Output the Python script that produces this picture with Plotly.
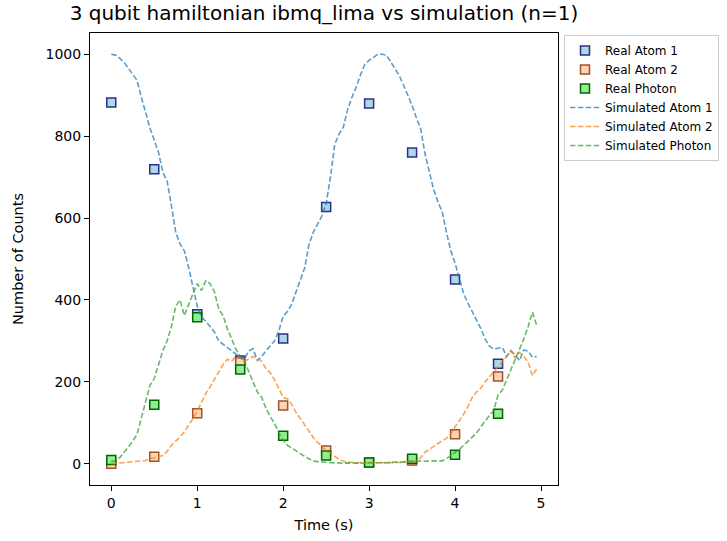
import plotly.graph_objects as go

# Real hardware samples
real_time = [0.0, 0.5, 1.0, 1.5, 2.0, 2.5, 3.0, 3.5, 4.0, 4.5]
real_atom1 = [882, 719, 365, 252, 306, 627, 880, 760, 450, 244]
real_atom2 = [0, 17, 123, 248, 142, 32, 3, 8, 72, 213]
real_photon = [9, 144, 358, 230, 68, 20, 3, 12, 22, 122]

# Simulation grid (step 0.05 from 0 to 4.95)
sim_time = [round(0.05 * i, 2) for i in range(100)]
sim_atom1 = [
    1000, 998, 990, 980, 966, 950, 936, 895, 858, 820,
    790, 760, 712, 690, 630, 565, 537, 520, 480, 430,
    385, 358, 348, 335, 322, 300, 292, 284, 278, 268,
    258, 255, 276, 281, 252, 262, 276, 288, 300, 325,
    360, 372, 390, 420, 450, 478, 535, 565, 585, 605,
    635, 700, 780, 805, 822, 865, 895, 920, 950, 975,
    985, 992, 1000, 1000, 998, 982, 965, 948, 925, 900,
    875, 845, 818, 757, 715, 670, 640, 615, 565, 520,
    490, 450, 415, 392, 372, 350, 330, 305, 287, 280,
    282, 284, 262, 276, 265, 252, 278, 275, 260, 262,
]
sim_atom2 = [
    0, 1, 2, 3, 4, 6, 7, 8, 8, 12,
    15, 18, 20, 30, 45, 55, 65, 78, 93, 110,
    128, 152, 172, 188, 205, 225, 242, 255, 250, 262,
    258, 250, 255, 262, 258, 250, 232, 222, 205, 185,
    162, 158, 145, 125, 110, 98, 80, 64, 52, 44,
    30, 26, 18, 10, 6, 4, 3, 2, 3, 2,
    2, 3, 2, 3, 2, 3, 2, 3, 3, 5,
    5, 8, 15, 28, 35, 44, 50, 56, 62, 72,
    90, 105, 121, 140, 162, 175, 185, 200, 212, 225,
    238, 250, 262, 276, 258, 272, 262, 248, 215, 232,
]
sim_photon = [
    5, 8, 15, 28, 42, 55, 72, 110, 154, 191,
    208, 240, 276, 300, 335, 385, 400, 362, 390, 415,
    440, 423, 447, 440, 420, 378, 362, 330, 305, 280,
    262, 250, 225, 200, 175, 162, 135, 115, 98, 75,
    58, 45, 38, 30, 24, 18, 12, 7, 5, 4,
    3, 3, 2, 2, 1, 2, 1, 2, 1, 2,
    2, 1, 2, 3, 2, 3, 4, 3, 5, 6,
    7, 6, 7, 6, 7, 7, 8, 7, 12, 20,
    26, 35, 45, 55, 65, 75, 90, 105, 118, 130,
    168, 180, 205, 232, 255, 280, 305, 335, 370, 338,
]

x_ticks = [0, 1, 2, 3, 4, 5]
y_ticks = [0, 200, 400, 600, 800, 1000]

FONT = "DejaVu Sans, Liberation Sans, sans-serif"
DASH = "5.5px,2.4px"

fig = go.Figure()

real_specs = [
    ("Real Atom 1", real_atom1, "#add8e6", "#2b2f8a"),
    ("Real Atom 2", real_atom2, "#ffd6b3", "#a0522d"),
    ("Real Photon", real_photon, "#90ee90", "#006400"),
]
for name, vals, fill, edge in real_specs:
    fig.add_trace(go.Scatter(
        x=real_time, y=vals, mode="markers", name=name,
        marker=dict(symbol="square", size=9, color=fill,
                    line=dict(color=edge, width=1.5)),
    ))

sim_specs = [
    ("Simulated Atom 1", sim_atom1, "rgba(31,119,180,0.72)"),
    ("Simulated Atom 2", sim_atom2, "rgba(255,127,14,0.72)"),
    ("Simulated Photon", sim_photon, "rgba(44,160,44,0.72)"),
]
for name, vals, col in sim_specs:
    fig.add_trace(go.Scatter(
        x=sim_time, y=vals, mode="lines", name=name,
        line=dict(color=col, width=1.6, dash=DASH),
    ))

axis_common = dict(
    showgrid=False, zeroline=False, showline=True, linecolor="black",
    linewidth=1, mirror=True, ticks="outside", ticklen=5, tickwidth=1,
    tickcolor="black", tickfont=dict(family=FONT, size=14, color="black"),
)

L, T, W, H = 90, 33, 468, 452

fig.update_layout(
    width=727, height=541,
    margin=dict(l=L, r=727 - L - W, t=T, b=541 - T - H, autoexpand=False),
    paper_bgcolor="white", plot_bgcolor="white",
    font=dict(family=FONT, color="black"),
    title=dict(text="3 qubit hamiltonian ibmq_lima vs simulation (n=1)",
               font=dict(family=FONT, size=20, color="black"),
               x=(L + W / 2) / 727, xanchor="center", xref="container",
               y=1 - 13 / 541, yanchor="middle", yref="container"),
    xaxis=dict(range=[-0.2475, 5.1975], tickvals=x_ticks,
               title=dict(text="Time (s)", font=dict(family=FONT, size=14.5),
                          standoff=10),
               **axis_common),
    yaxis=dict(range=[-52, 1052], tickvals=y_ticks,
               title=dict(text="Number of Counts", font=dict(family=FONT, size=14.5),
                          standoff=18),
               **axis_common),
    showlegend=True,
    legend=dict(x=(564 - L) / W, y=1 - 2 / H, xanchor="left", yanchor="top",
                font=dict(family=FONT, size=12, color="black"),
                bordercolor="#cccccc", borderwidth=1, bgcolor="white",
                tracegroupgap=0, itemwidth=30),
)

fig.write_html("out.html", config={"displayModeBar": False},
               post_script="document.body.style.margin='0';")
